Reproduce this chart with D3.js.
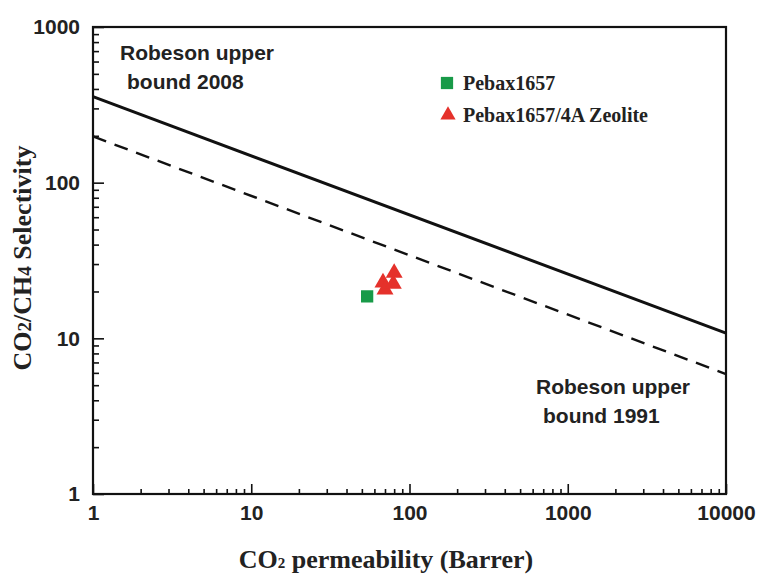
<!DOCTYPE html>
<html>
<head>
<meta charset="utf-8">
<script src="https://cdn.jsdelivr.net/npm/d3@7/dist/d3.min.js"></script>
<style>
	body { margin: 0; background: #fff; }
	svg { display: block; }
</style>
</head>
<body>
<svg id="Canvas" width="758" height="576"></svg>
<script>
	// chart data
	var pebaxX = [54],
		pebaxY = [18.6],
		zeoliteX = [68, 70, 80, 79],
		zeoliteY = [22.8, 20.6, 26.3, 22.4],
		boundX = [1, 10000],
		bound2008 = [357, 10.8],
		bound1991 = [198, 5.9],
		xTicks = [1, 10, 100, 1000, 10000],
		yTicks = [1, 10, 100, 1000];

	var svg = d3.select("#Canvas"),
		plotLeft = 93, plotRight = 726, plotTop = 27, plotBottom = 494;

	var x = d3.scaleLog().domain([1, 10000]).range([plotLeft, plotRight]),
		y = d3.scaleLog().domain([1, 1000]).range([plotBottom, plotTop]);

	function minorTicks(domain){
		var out = [];
		for(var d = domain[0]; d < domain[1]; d *= 10){
			for(var k = 2; k <= 9; k++){ out.push(d * k); }
		}
		return out;
	}

	/*
	 * Axes, ticks point inward
	 */
	svg.append("g").attr("transform", "translate(0," + plotBottom + ")")
		.call(d3.axisBottom(x).tickValues(minorTicks([1, 10000])).tickSize(-5).tickFormat(""));
	svg.append("g").attr("transform", "translate(0," + plotBottom + ")")
		.call(d3.axisBottom(x).tickValues(xTicks).tickSize(-10).tickPadding(11).tickFormat(d3.format("d")));

	svg.append("g").attr("transform", "translate(" + plotLeft + ",0)")
		.call(d3.axisLeft(y).tickValues(minorTicks([1, 1000])).tickSize(-6).tickFormat(""));
	svg.append("g").attr("transform", "translate(" + plotLeft + ",0)")
		.call(d3.axisLeft(y).tickValues(yTicks).tickSize(-11).tickPadding(13).tickFormat(d3.format("d")));

	svg.selectAll(".domain").remove();
	svg.selectAll(".tick line").attr("stroke", "#111").attr("stroke-width", 1.6);
	svg.selectAll(".tick text")
		.attr("fill", "#222")
		.style("font-family", "'Liberation Sans', Arial, sans-serif")
		.style("font-weight", "bold")
		.style("font-size", "21px");

	// frame
	svg.append("rect")
		.attr("x", plotLeft).attr("y", plotTop)
		.attr("width", plotRight - plotLeft).attr("height", plotBottom - plotTop)
		.attr("fill", "none").attr("stroke", "#111").attr("stroke-width", 2.2);

	/*
	 * Robeson bounds
	 */
	var line = d3.line()
		.x(function(d){ return x(d[0]); })
		.y(function(d){ return y(d[1]); });

	svg.append("path")
		.datum(d3.zip(boundX, bound2008))
		.attr("d", line)
		.attr("fill", "none").attr("stroke", "#111").attr("stroke-width", 3);

	svg.append("path")
		.datum(d3.zip(boundX, bound1991))
		.attr("d", line)
		.attr("fill", "none").attr("stroke", "#111").attr("stroke-width", 2.4)
		.attr("stroke-dasharray", "14,9");

	/*
	 * Data points
	 */
	var square = d3.symbol().type(d3.symbolSquare).size(150),
		triangle = d3.symbol().type(d3.symbolTriangle).size(125);

	svg.selectAll(".pebax").data(d3.zip(pebaxX, pebaxY)).enter()
		.append("path").classed("pebax", true)
		.attr("d", square)
		.attr("transform", function(d){ return "translate(" + x(d[0]) + "," + y(d[1]) + ")"; })
		.attr("fill", "#189a48");

	svg.selectAll(".zeolite").data(d3.zip(zeoliteX, zeoliteY)).enter()
		.append("path").classed("zeolite", true)
		.attr("d", triangle)
		.attr("transform", function(d){ return "translate(" + x(d[0]) + "," + y(d[1]) + ")"; })
		.attr("fill", "#e5312b");

	/*
	 * Legend
	 */
	var legendTriangle = d3.symbol().type(d3.symbolTriangle).size(100);
	var legend = svg.append("g").attr("transform", "translate(447,0)");
	legend.append("path").attr("d", square).attr("transform", "translate(0,83)").attr("fill", "#189a48");
	legend.append("path").attr("d", legendTriangle).attr("transform", "translate(1,115)").attr("fill", "#e5312b");
	legend.selectAll("text").data(["Pebax1657", "Pebax1657/4A Zeolite"]).enter()
		.append("text")
		.attr("x", 16)
		.attr("y", function(d, i){ return 90 + i * 32; })
		.style("font-family", "'Liberation Serif', 'Times New Roman', serif")
		.style("font-weight", "bold")
		.style("font-size", "20px")
		.attr("fill", "#222")
		.text(function(d){ return d; });

	/*
	 * Annotations
	 */
	function note(lines, x0, y0){
		var t = svg.append("text")
			.style("font-family", "'Liberation Sans', Arial, sans-serif")
			.style("font-weight", "bold")
			.style("font-size", "21px")
			.attr("fill", "#222");
		lines.forEach(function(s, i){
			t.append("tspan").attr("x", x0[i]).attr("y", y0 + i * 29).text(s);
		});
	}
	note(["Robeson upper", "bound 2008"], [120, 127], 60);
	note(["Robeson upper", "bound 1991"], [536, 543], 394);

	/*
	 * Axis titles
	 */
	var xt = svg.append("text")
		.attr("x", 386).attr("y", 568)
		.attr("text-anchor", "middle")
		.style("font-family", "'Liberation Serif', 'Times New Roman', serif")
		.style("font-weight", "bold")
		.style("font-size", "26px")
		.attr("fill", "#222");
	xt.append("tspan").text("CO");
	xt.append("tspan").style("font-size", "15px").text("2");
	xt.append("tspan").text(" permeability (Barrer)");

	var yt = svg.append("text")
		.attr("transform", "translate(31,258) rotate(-90)")
		.attr("text-anchor", "middle")
		.style("font-family", "'Liberation Serif', 'Times New Roman', serif")
		.style("font-weight", "bold")
		.style("font-size", "26px")
		.attr("fill", "#222");
	yt.append("tspan").text("CO");
	yt.append("tspan").style("font-size", "19px").text("2");
	yt.append("tspan").text("/CH");
	yt.append("tspan").style("font-size", "19px").text("4");
	yt.append("tspan").text(" Selectivity");
</script>
</body>
</html>
